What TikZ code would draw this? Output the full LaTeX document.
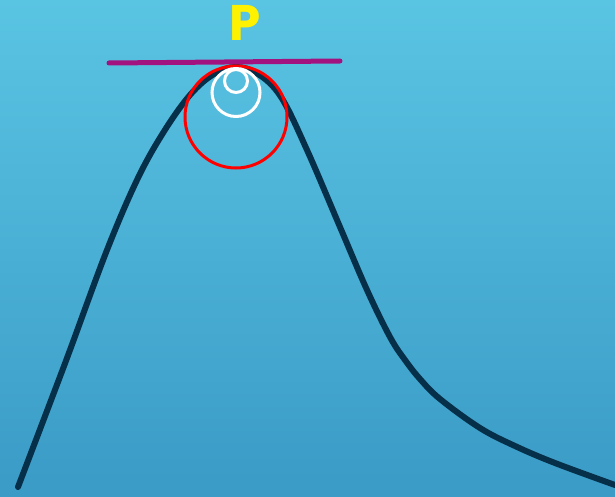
\documentclass[tikz,border=0pt]{standalone}
\usepackage{fontspec}
\newfontfamily\labelfont{Poppins}
\usepackage{tikz}
\usetikzlibrary{positioning, calc}
\definecolor{skytop}{HTML}{5AC4E3}
\definecolor{skybottom}{HTML}{3A9BC6}
\definecolor{curvecol}{HTML}{06304A}
\definecolor{tangentcol}{HTML}{A3137F}

\begin{document}
\begin{tikzpicture}[x=1pt, y=-1pt]
    % Background
    \useasboundingbox (0,0) rectangle (615,497);
    \shade[top color=skytop, bottom color=skybottom] (0,0) rectangle (615,497);
    % Curve
    \draw[curvecol, line width=6pt, line cap=round] plot[smooth, tension=0.6] coordinates {
        (18,487) (50,403) (70,350) (107,250) (137,180) (163,133) (190,95)
        (214,74) (236,67) (258,74) (281,97) (307,150) (340,227) (367,290)
        (390,337) (405,360) (420,379) (440,399) (480,428)
        (515,446) (555,463) (615,485)};
    % Tangent at P
    \coordinate (tl) at (109,63);
    \coordinate (tr) at (340,61);
    \draw[tangentcol, line width=5pt, line cap=round] (tl) -- (tr);
    % Circles
    \draw[red, line width=3pt] (236,117) circle (51);
    \draw[white, line width=3pt] (236,92.5) circle (24);
    \draw[white, line width=3pt] (236,81) circle (11.5);
    % Label
    \node[text=yellow, font=\labelfont\bfseries\fontsize{50}{50}\selectfont] (p) at (245,23) {P};
\end{tikzpicture}
\end{document}
